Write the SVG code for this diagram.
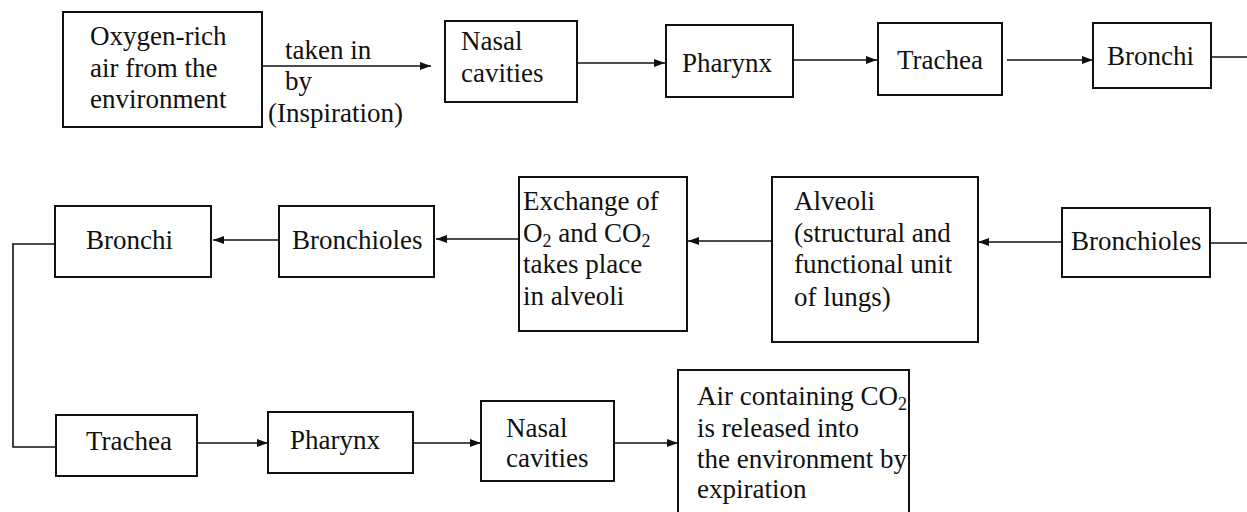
<svg xmlns="http://www.w3.org/2000/svg" width="1247" height="512" viewBox="0 0 1247 512">
<defs>
<style>
.box{fill:#fff;stroke:#111;stroke-width:2}
.t{font-family:"Liberation Serif","Times New Roman",serif;font-size:27px;fill:#111}
.c{fill:none;stroke:#111;stroke-width:1.6}
</style>
<marker id="ah" markerUnits="userSpaceOnUse" markerWidth="11" markerHeight="8" refX="11" refY="4" orient="auto">
<path d="M0,0 L11,4 L0,8 z" fill="#111"/>
</marker>
</defs>
<rect width="1247" height="512" fill="#fff"/>
<g id="connectors">
<path class="c" d="M262,66 H431" marker-end="url(#ah)"/>
<path class="c" d="M577,63 H665" marker-end="url(#ah)"/>
<path class="c" d="M793,60 H877" marker-end="url(#ah)"/>
<path class="c" d="M1007,60 H1093" marker-end="url(#ah)"/>
<path class="c" d="M1211,57 H1247"/>
<path class="c" d="M1247,243 H1210"/>
<path class="c" d="M1062,242 H978" marker-end="url(#ah)"/>
<path class="c" d="M772,241 H688" marker-end="url(#ah)"/>
<path class="c" d="M519,239 H436" marker-end="url(#ah)"/>
<path class="c" d="M279,240 H213" marker-end="url(#ah)"/>
<path class="c" d="M55,244 H13 V447 H56"/>
<path class="c" d="M197,443 H268" marker-end="url(#ah)"/>
<path class="c" d="M413,443 H481" marker-end="url(#ah)"/>
<path class="c" d="M614,443 H678" marker-end="url(#ah)"/>
<text class="t" x="285" y="59">taken in</text>
<text class="t" x="285" y="90">by</text>
<text class="t" x="268" y="122">(Inspiration)</text>
</g>
<g id="oxygen-air">
<rect class="box" x="63" y="12" width="199" height="115"/>
<text class="t" x="90" y="45">Oxygen-rich</text>
<text class="t" x="90" y="77">air from the</text>
<text class="t" x="90" y="108">environment</text>
</g>
<g id="nasal-in">
<rect class="box" x="445" y="21" width="132" height="81"/>
<text class="t" x="461" y="50">Nasal</text>
<text class="t" x="461" y="82">cavities</text>
</g>
<g id="pharynx-in">
<rect class="box" x="666" y="25" width="127" height="72"/>
<text class="t" x="682" y="72">Pharynx</text>
</g>
<g id="trachea-in">
<rect class="box" x="878" y="23" width="124" height="72"/>
<text class="t" x="897" y="69">Trachea</text>
</g>
<g id="bronchi-in">
<rect class="box" x="1093" y="23" width="118" height="65"/>
<text class="t" x="1107" y="65">Bronchi</text>
</g>
<g id="bronchioles-in">
<rect class="box" x="1062" y="208" width="148" height="69"/>
<text class="t" x="1071" y="250">Bronchioles</text>
</g>
<g id="alveoli">
<rect class="box" x="772" y="177" width="206" height="165"/>
<text class="t" x="794" y="210">Alveoli</text>
<text class="t" x="794" y="242">(structural and</text>
<text class="t" x="794" y="273">functional unit</text>
<text class="t" x="794" y="306">of lungs)</text>
</g>
<g id="exchange">
<rect class="box" x="519" y="177" width="168" height="154"/>
<text class="t" x="523" y="210">Exchange of</text>
<text class="t" x="523" y="242">O<tspan font-size="18" dy="5">2</tspan><tspan dy="-5"> and CO</tspan><tspan font-size="18" dy="5">2</tspan></text>
<text class="t" x="523" y="273">takes place</text>
<text class="t" x="523" y="305">in alveoli</text>
</g>
<g id="bronchioles-out">
<rect class="box" x="279" y="206" width="155" height="71"/>
<text class="t" x="292" y="249">Bronchioles</text>
</g>
<g id="bronchi-out">
<rect class="box" x="55" y="206" width="156" height="71"/>
<text class="t" x="86" y="249">Bronchi</text>
</g>
<g id="trachea-out">
<rect class="box" x="56" y="415" width="141" height="61"/>
<text class="t" x="86" y="450">Trachea</text>
</g>
<g id="pharynx-out">
<rect class="box" x="268" y="412" width="145" height="61"/>
<text class="t" x="290" y="449">Pharynx</text>
</g>
<g id="nasal-out">
<rect class="box" x="481" y="401" width="133" height="80"/>
<text class="t" x="506" y="437">Nasal</text>
<text class="t" x="506" y="467">cavities</text>
</g>
<g id="air-out">
<rect class="box" x="678" y="370" width="231" height="160"/>
<text class="t" x="697" y="405">Air containing CO<tspan font-size="18" dy="5">2</tspan></text>
<text class="t" x="697" y="437">is released into</text>
<text class="t" x="697" y="468">the environment by</text>
<text class="t" x="697" y="498">expiration</text>
</g>
</svg>
